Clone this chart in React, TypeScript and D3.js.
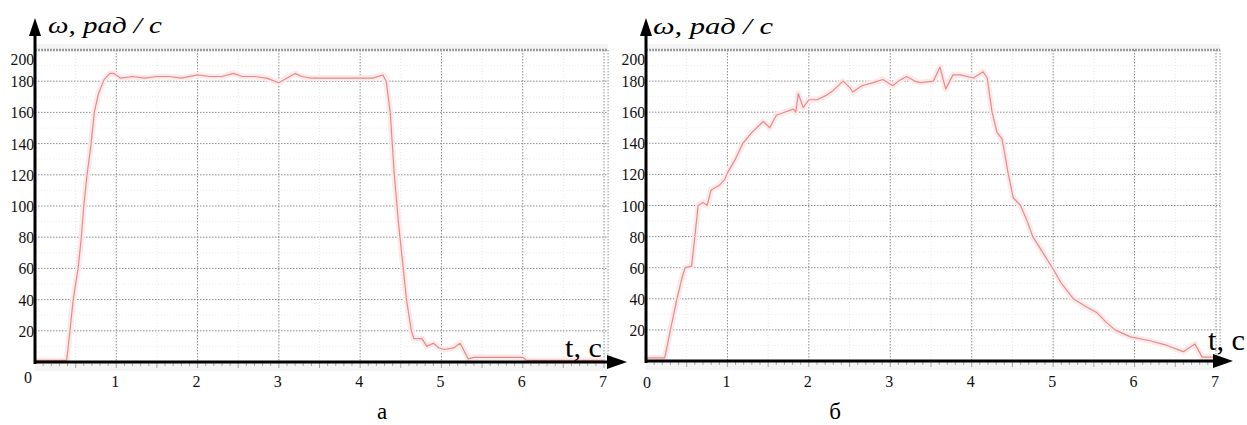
import React from "react";
import * as d3 from "d3";

// ---------- data ----------
const yTicks = [20, 40, 60, 80, 100, 120, 140, 160, 180, 200];
const xTicks = [1, 2, 3, 4, 5, 6, 7];

// panel "а"
const tA = [0, 0.39, 0.43, 0.47, 0.53, 0.57, 0.6, 0.64, 0.69, 0.73, 0.78, 0.85, 0.92, 0.97, 1.05, 1.2, 1.35, 1.5, 1.65, 1.8, 2.0, 2.15, 2.3, 2.44, 2.55, 2.7, 2.85, 3.0, 3.1, 3.2, 3.28, 3.4, 3.6, 3.8, 4.0, 4.15, 4.28, 4.32, 4.37, 4.42, 4.47, 4.53, 4.57, 4.63, 4.66, 4.76, 4.82, 4.9, 4.97, 5.04, 5.15, 5.23, 5.33, 5.4, 6.0, 6.05, 7.0];
const wA = [1, 1, 20, 40, 60, 80, 100, 120, 140, 160, 172, 181, 185, 185, 182, 183, 182, 183, 183, 182, 184, 183, 183, 185, 183, 183, 182, 179, 182, 185, 183, 182, 182, 182, 182, 182, 184, 180, 160, 120, 90, 60, 40, 20, 15, 15, 10, 12, 9, 8, 9, 12, 2, 3, 3, 1, 1];

// panel "б"
const tB = [0, 0.23, 0.3, 0.38, 0.45, 0.48, 0.56, 0.6, 0.64, 0.7, 0.75, 0.8, 0.9, 0.97, 1.0, 1.1, 1.19, 1.3, 1.44, 1.52, 1.6, 1.7, 1.81, 1.84, 1.87, 1.93, 2.0, 2.1, 2.22, 2.3, 2.42, 2.5, 2.54, 2.65, 2.79, 2.91, 3.03, 3.1, 3.2, 3.3, 3.37, 3.53, 3.61, 3.68, 3.77, 3.86, 4.02, 4.14, 4.19, 4.25, 4.31, 4.37, 4.39, 4.45, 4.51, 4.6, 4.68, 4.75, 4.87, 4.99, 5.1, 5.25, 5.4, 5.54, 5.65, 5.76, 5.95, 6.19, 6.4, 6.55, 6.6, 6.74, 6.83, 7.0];
const wB = [2, 2, 20, 40, 55, 60, 61, 80, 100, 102, 100, 110, 113, 117, 121, 130, 140, 147, 154, 150, 158, 160, 162, 160, 172, 163, 168, 168, 171, 174, 180, 176, 173, 177, 179, 181, 177, 180, 183, 180, 179, 180, 189, 175, 184, 184, 182, 186, 182, 160, 147, 143, 138, 120, 105, 100, 90, 80, 70, 60, 50, 40, 35, 31, 25, 20, 15.5, 13, 10, 7, 6, 11, 2.5, 2.5];

const FONT = '"Liberation Serif", "Times New Roman", "Liberation Sans", Arial, sans-serif';

type PanelProps = {
  t: number[];
  w: number[];
  x0: number;
  x7: number;
  y0: number;
  arrowX: number;
  zeroLabel: [number, number];
  title: { x: number; y: number; len: number };
  tc: { x: number; y: number; size: number; len: number };
  letter: { text: string; x: number };
};

function Panel(p: PanelProps) {
  const x = d3.scaleLinear().domain([0, 7]).range([p.x0, p.x7]);
  const y = d3.scaleLinear().domain([0, 200]).range([p.y0, 50]);
  const gridRight = x(7.05);
  const line = d3
    .line<number>()
    .x((_, i) => x(p.t[i]))
    .y((d) => y(d))
    .curve(d3.curveLinear);
  const path = line(p.w) || "";
  const minorX = d3.range(1, 14).map((i) => i * 0.5).filter((v) => v % 1 !== 0);
  const minorY = d3.range(10, 200, 20);
  const minorTicks = d3.range(1, 71).map((i) => i / 10);
  const axisX = x(0);
  const txt = { fontFamily: FONT } as React.CSSProperties;

  return (
    <g>
      {/* background bands */}
      <rect x={axisX} y={44} width={gridRight - axisX} height={6} fill="#f4f4f4" />
      <rect x={axisX} y={p.y0 + 1} width={gridRight - axisX} height={8} fill="#f4f4f4" />
      {/* minor grid */}
      {minorX.map((v) => (
        <line key={"mx" + v} x1={x(v)} x2={x(v)} y1={y(200)} y2={p.y0} stroke="#e8e8e8" strokeDasharray="1,2" />
      ))}
      {minorY.map((v) => (
        <line key={"my" + v} x1={axisX} x2={gridRight} y1={y(v)} y2={y(v)} stroke="#ececec" strokeDasharray="1,2" />
      ))}
      {/* major grid */}
      {yTicks.slice(0, -1).map((v) => (
        <line key={"gy" + v} x1={axisX} x2={gridRight} y1={y(v)} y2={y(v)} stroke="#8c8c8c" strokeDasharray="1.5,1.5" />
      ))}
      {xTicks.map((v) => (
        <line key={"gx" + v} x1={x(v)} x2={x(v)} y1={y(200)} y2={p.y0} stroke="#8c8c8c" strokeDasharray="1.5,1.5" />
      ))}
      <line x1={gridRight} x2={gridRight} y1={y(200)} y2={p.y0} stroke="#999" strokeDasharray="1.5,1.5" />
      <line x1={axisX} x2={gridRight} y1={y(200)} y2={y(200)} stroke="#999" strokeWidth={2.5} strokeDasharray="2,1" />
      {/* minor ticks under axis */}
      {minorTicks.map((v) => (
        <line key={"mt" + v} x1={x(v)} x2={x(v)} y1={p.y0} y2={p.y0 + (Math.round(v * 10) % 5 === 0 ? 6 : 4)} stroke="#a5a5a5" />
      ))}
      {/* curve */}
      <path d={path} fill="none" stroke="#fdeaea" strokeWidth={6} strokeLinejoin="round" />
      <path d={path} fill="none" stroke="#e88a8a" strokeWidth={1.2} strokeLinejoin="round" />
      {/* axes */}
      <line x1={axisX} x2={axisX} y1={34} y2={p.y0 + 2} stroke="#000" strokeWidth={3} />
      <path d={`M${axisX},18 L${axisX - 6},36 L${axisX + 6},36 Z`} fill="#000" />
      <line x1={axisX} x2={p.arrowX - 18} y1={p.y0} y2={p.y0} stroke="#000" strokeWidth={3} />
      <path d={`M${p.arrowX},${p.y0} L${p.arrowX - 20},${p.y0 - 7} L${p.arrowX - 20},${p.y0 + 7} Z`} fill="#000" />
      {/* y tick labels */}
      {yTicks.map((v) => {
        const s = String(v);
        return (
          <text key={"yl" + v} x={axisX - 1} y={y(v) + 6 + (v === 200 ? 9 : 0)} textAnchor="end" style={txt} fontSize={17} textLength={s.length * 7.8} lengthAdjust="spacingAndGlyphs" fill="#111">
            {s}
          </text>
        );
      })}
      <text x={p.zeroLabel[0]} y={p.zeroLabel[1]} textAnchor="middle" style={txt} fontSize={17} textLength={8} lengthAdjust="spacingAndGlyphs" fill="#111">0</text>
      {/* x tick labels */}
      {xTicks.map((v) => (
        <text key={"xl" + v} x={x(v) - 1} y={387} textAnchor="middle" style={txt} fontSize={17} textLength={8} lengthAdjust="spacingAndGlyphs" fill="#111">
          {v}
        </text>
      ))}
      {/* titles */}
      <text x={p.title.x} y={p.title.y} style={txt} fontStyle="italic" fontSize={23} textLength={p.title.len} lengthAdjust="spacingAndGlyphs" fill="#000">
        ω, рад / с
      </text>
      <text x={p.tc.x} y={p.tc.y} style={txt} fontSize={p.tc.size} textLength={p.tc.len} lengthAdjust="spacingAndGlyphs" fill="#000">
        t, с
      </text>
      <text x={p.letter.x} y={419} textAnchor="middle" style={txt} fontSize={23} fill="#000">
        {p.letter.text}
      </text>
    </g>
  );
}

export default function App() {
  return (
    <svg width={1247} height={425} style={{ position: "absolute", left: 0, top: 0, background: "#fff" }}>
      <rect width={1247} height={425} fill="#fff" />
      <Panel
        t={tA}
        w={wA}
        x0={35}
        x7={604}
        y0={362}
        arrowX={627}
        zeroLabel={[28, 383]}
        title={{ x: 48, y: 33, len: 114 }}
        tc={{ x: 565, y: 357, size: 28, len: 37 }}
        letter={{ text: "а", x: 382 }}
      />
      <Panel
        t={tB}
        w={wB}
        x0={646}
        x7={1216}
        y0={361}
        arrowX={1233}
        zeroLabel={[647, 388]}
        title={{ x: 653, y: 34, len: 120 }}
        tc={{ x: 1208, y: 350, size: 30, len: 37 }}
        letter={{ text: "б", x: 835 }}
      />
    </svg>
  );
}
